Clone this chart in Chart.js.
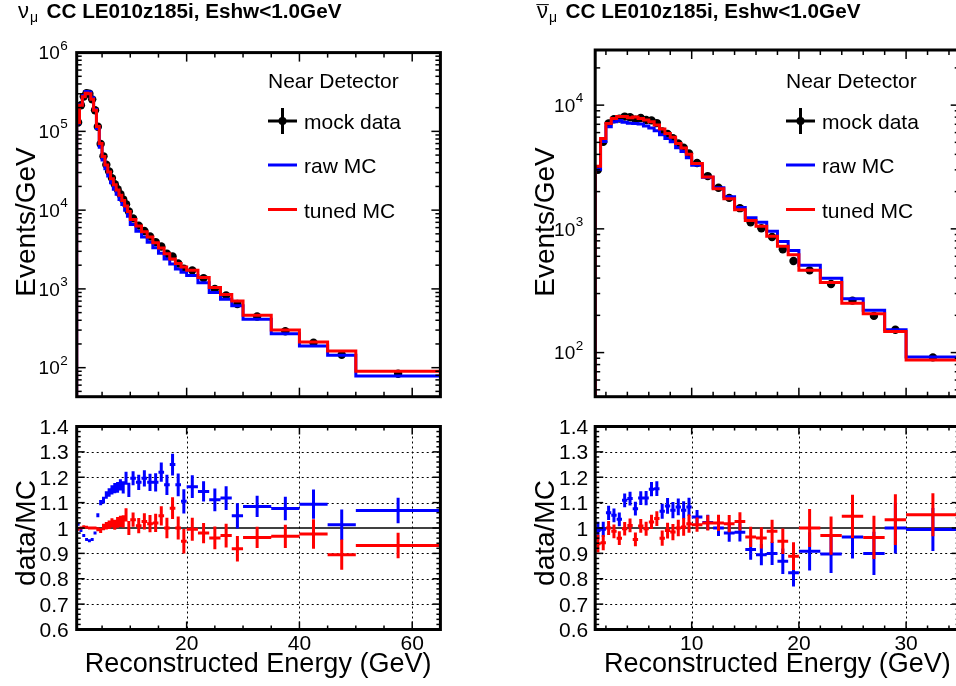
<!DOCTYPE html>
<html>
<head>
<meta charset="utf-8">
<script src="https://cdn.jsdelivr.net/npm/chart.js@4.4.1/dist/chart.umd.min.js"></script>
<style>
  html, body { margin: 0; padding: 0; background: #fff; overflow: hidden; }
  #page { position: relative; width: 956px; height: 686px; overflow: hidden; background: #fff; }
  #page canvas { position: absolute; left: 0; top: 0; }
</style>
</head>
<body>
<div id="page">
  <canvas id="numuSpec" width="980" height="686"></canvas>
  <canvas id="numuRatio" width="980" height="686"></canvas>
  <canvas id="nubarSpec" width="980" height="686"></canvas>
  <canvas id="nubarRatio" width="980" height="686"></canvas>
</div>
<script>
// ---- numu sample: bin edges in GeV, spectra in events/GeV ----
const numuEdges = [0.5, 1, 1.5, 2, 2.5, 3, 3.5, 4, 4.5, 5, 5.5, 6, 6.5, 7, 7.5, 8, 8.5, 9, 9.5, 10,
  11, 12, 13, 14, 15, 16, 17, 18, 19, 20, 22, 24, 26, 28, 30, 35, 40, 45, 50, 65];
const numuData = [1.294e5, 2.15e5, 2.764e5, 3.06e5, 3.0e5, 2.55e5, 1.85e5, 1.144e5, 6.93e4, 4.82e4,
  3.78e4, 3.09e4, 2.55e4, 2.13e4, 1.84e4, 1.59e4, 1.365e4, 1.19e4, 9600,
  7850, 6360, 5440, 4630, 3930, 3460, 2800, 2590, 2100, 1800,
  1720, 1370, 999, 825, 643, 446, 290, 207, 146, 83.8];
const numuRawMC = [1.275e5, 2.17e5, 2.85e5, 3.2e5, 3.16e5, 2.67e5, 1.89e5, 1.09e5, 6.3e4, 4.34e4,
  3.35e4, 2.71e4, 2.22e4, 1.84e4, 1.59e4, 1.36e4, 1.18e4, 9940, 8350,
  6560, 5390, 4550, 3920, 3330, 2840, 2390, 2070, 1790, 1630,
  1480, 1200, 899, 738, 613, 411, 269, 189, 144, 78.4];
const numuTunedMC = [1.3e5, 2.15e5, 2.75e5, 3.05e5, 3.0e5, 2.55e5, 1.85e5, 1.15e5, 7.0e4, 4.8e4,
  3.75e4, 3.05e4, 2.5e4, 2.1e4, 1.8e4, 1.55e4, 1.33e4, 1.13e4, 9600,
  7600, 6300, 5300, 4550, 3850, 3300, 2800, 2400, 2100, 1900,
  1730, 1400, 1040, 850, 700, 463, 300, 212, 163, 90];
const numuRatioRaw = [1.015, 0.99, 0.97, 0.955, 0.95, 0.955, 0.98, 1.05, 1.10, 1.11,
  1.13, 1.14, 1.15, 1.157, 1.16, 1.17, 1.16, 1.196, 1.15,
  1.196, 1.18, 1.196, 1.18, 1.18, 1.22, 1.17, 1.25, 1.17, 1.105,
  1.163, 1.144, 1.111, 1.118, 1.048, 1.085, 1.077, 1.094, 1.013, 1.069];
const numuRatioTuned = [0.995, 1.0, 1.005, 1.003, 1.0, 1.0, 1.0, 0.995, 0.99, 1.004,
  1.009, 1.013, 1.02, 1.013, 1.022, 1.026, 1.026, 1.052, 1.0,
  1.033, 1.009, 1.026, 1.017, 1.02, 1.048, 1.0, 1.078, 1.0, 0.948,
  0.995, 0.98, 0.961, 0.97, 0.918, 0.963, 0.967, 0.976, 0.895, 0.931];
const numuRatioErr = [0.004, 0.004, 0.004, 0.004, 0.004, 0.005, 0.006, 0.008, 0.01, 0.013,
  0.015, 0.017, 0.018, 0.02, 0.021, 0.022, 0.024, 0.026, 0.028,
  0.028, 0.03, 0.032, 0.034, 0.036, 0.038, 0.04, 0.043, 0.045, 0.048,
  0.045, 0.04, 0.045, 0.047, 0.05, 0.042, 0.046, 0.058, 0.06, 0.05];

// ---- numubar sample ----
const nubarEdges = [1, 1.5, 2, 2.5, 3, 3.5, 4, 4.5, 5, 5.5, 6, 6.5, 7, 7.5, 8, 8.5, 9, 9.5, 10,
  11, 12, 13, 14, 15, 16, 17, 18, 19, 20, 22, 24, 26, 28, 30, 35];
const nubarData = [3000, 5060, 7100, 7700, 7780, 8080, 7980, 7640, 7860, 7580,
  7530, 7160, 6140, 5840, 5410, 4900, 4520, 4070,
  3410, 2670, 2150, 1780, 1470, 1130, 1010, 860, 685, 550,
  462, 358, 263, 198, 153, 91.5];
const nubarRawMC = [3030, 5080, 6700, 7330, 7520, 7280, 7150, 7100, 7030, 6780,
  6530, 6200, 5760, 5370, 5060, 4520, 4220, 3760,
  3270, 2610, 2150, 1820, 1490, 1230, 1130, 955, 789, 668,
  509, 399, 272, 220, 153, 92];
const nubarTunedMC = [3200, 5370, 7100, 7800, 8100, 8100, 7900, 8000, 7800, 7600,
  7350, 6900, 6400, 5900, 5500, 4900, 4500, 4000,
  3370, 2620, 2110, 1750, 1430, 1170, 1050, 871, 723, 619,
  462, 369, 251, 206, 148, 87];
const nubarRatioRaw = [0.99, 0.995, 1.06, 1.05, 1.034, 1.109, 1.116, 1.076, 1.118, 1.118,
  1.153, 1.155, 1.066, 1.087, 1.07, 1.083, 1.07, 1.083,
  1.043, 1.022, 1.0, 0.98, 0.983, 0.915, 0.895, 0.9, 0.869, 0.824,
  0.908, 0.898, 0.965, 0.9, 1.0, 0.994];
const nubarRatioTuned = [0.938, 0.942, 1.0, 0.987, 0.96, 0.997, 1.01, 0.955, 1.008, 0.997,
  1.024, 1.037, 0.96, 0.99, 0.984, 1.0, 1.004, 1.017,
  1.013, 1.02, 1.02, 1.017, 1.026, 0.965, 0.961, 0.987, 0.948, 0.889,
  1.0, 0.97, 1.046, 0.963, 1.033, 1.052];
const nubarRatioErr = [0.035, 0.03, 0.028, 0.027, 0.027, 0.027, 0.027, 0.027, 0.027, 0.028,
  0.028, 0.029, 0.03, 0.031, 0.032, 0.033, 0.035, 0.036,
  0.028, 0.03, 0.032, 0.034, 0.036, 0.04, 0.042, 0.046, 0.05, 0.055,
  0.075, 0.075, 0.085, 0.085, 0.1, 0.085];

// ---- axis ticks and labels ----
const numuXTicks = [20, 40, 60];
const nubarXTicks = [10, 20, 30];
const numuDecades = [2, 3, 4, 5, 6];
const nubarDecades = [2, 3, 4];
const ratioYTicks = [0.6, 0.7, 0.8, 0.9, 1.0, 1.1, 1.2, 1.3, 1.4];
const ratioYLabels = ['0.6', '0.7', '0.8', '0.9', '1', '1.1', '1.2', '1.3', '1.4'];
const legendLabels = ['mock data', 'raw MC', 'tuned MC'];

const SANS = '"Liberation Sans", Arial, Helvetica, sans-serif';
const RED = '#ff0000', BLUE = '#0000ff';

// histogram outline: starts below the axis at the first edge, one step per bin
function histPath(edges, vals) {
  const pts = [{ x: edges[0], y: 1e-3 }];
  vals.forEach((v, i) => pts.push({ x: edges[i + 1], y: v }));
  return pts;
}
function binCentres(edges, vals) {
  return vals.map((v, i) => ({ x: (edges[i] + edges[i + 1]) / 2, y: v }));
}
// horizontal bar over the bin plus a vertical error bar, null breaks the line
function crosses(edges, vals, errs) {
  const pts = [];
  vals.forEach((v, i) => {
    const lo = edges[i], hi = edges[i + 1], c = (lo + hi) / 2;
    pts.push({ x: lo, y: v }, { x: hi, y: v }, { x: c, y: null },
      { x: c, y: v - errs[i] }, { x: c, y: v + errs[i] }, { x: c, y: null });
  });
  return pts;
}

function line(ctx, x1, y1, x2, y2) {
  ctx.beginPath(); ctx.moveTo(x1, y1); ctx.lineTo(x2, y2); ctx.stroke();
}

function drawTitle(ctx, t) {
  ctx.fillStyle = '#000';
  ctx.textAlign = 'left';
  ctx.textBaseline = 'alphabetic';
  ctx.font = `22px ${SANS}`;
  ctx.fillText('\u03BD', t.x, t.y);
  const nuW = ctx.measureText('\u03BD').width;
  if (t.bar) {
    ctx.textAlign = 'center';
    ctx.fillText('\u00AF', t.x + nuW / 2, t.y + 3);
    ctx.textAlign = 'left';
  }
  ctx.font = `14px ${SANS}`;
  ctx.fillText('\u03BC', t.x + nuW + 1, t.y + 4);
  ctx.font = `bold 20.7px ${SANS}`;
  ctx.fillText(t.text, t.x + 28.5, t.y);
}

function drawLegend(ctx, lg) {
  const x = lg.x, w = 29;
  ctx.fillStyle = '#000';
  ctx.textAlign = 'left';
  ctx.textBaseline = 'alphabetic';
  ctx.font = `21px ${SANS}`;
  ctx.fillText('Near Detector', x, 88);
  ctx.lineWidth = 3;
  ctx.strokeStyle = '#000';
  line(ctx, x, 121, x + w, 121);
  line(ctx, x + w / 2, 108, x + w / 2, 134);
  ctx.beginPath(); ctx.arc(x + w / 2, 121, 4, 0, Math.PI * 2); ctx.fill();
  ctx.strokeStyle = BLUE; line(ctx, x, 165, x + w, 165);
  ctx.strokeStyle = RED; line(ctx, x, 209.5, x + w, 209.5);
  ctx.fillText(legendLabels[0], lg.textX, 128.5);
  ctx.fillText(legendLabels[1], lg.textX, 173);
  ctx.fillText(legendLabels[2], lg.textX, 217.5);
}

// ROOT-like frame: ticks inside on all four sides, labels, titles
function rootAxes(cfg) {
  return {
    id: 'rootAxes',
    beforeDatasetsDraw(chart) {
      if (!cfg.grid) return;
      const { ctx, chartArea: a, scales: { x, y } } = chart;
      ctx.save();
      ctx.strokeStyle = '#000';
      ctx.lineWidth = 1;
      ctx.setLineDash([2, 3]);
      ratioYTicks.forEach(v => {
        if (v <= 0.65 || v >= 1.35 || Math.abs(v - 1) < 1e-6) return;
        const py = Math.round(y.getPixelForValue(v)) + 0.5;
        line(ctx, a.left, py, a.right, py);
      });
      cfg.xMajor.forEach(v => {
        const px = Math.round(x.getPixelForValue(v)) + 0.5;
        line(ctx, px, a.top, px, a.bottom);
      });
      ctx.restore();
    },
    afterDraw(chart) {
      const { ctx, chartArea: a, scales: { x, y } } = chart;
      ctx.save();
      ctx.strokeStyle = '#000';
      ctx.fillStyle = '#000';
      ctx.lineWidth = 1.5;
      const maj = cfg.majorLen, mnr = cfg.minorLen;

      // x ticks
      const n0 = Math.ceil(x.min / cfg.xMinorStep), n1 = Math.floor(x.max / cfg.xMinorStep);
      for (let i = n0; i <= n1; i++) {
        const v = i * cfg.xMinorStep;
        if (v <= x.min || v >= x.max) continue;
        const len = cfg.xMajor.includes(v) ? maj : mnr;
        const px = x.getPixelForValue(v);
        line(ctx, px, a.bottom, px, a.bottom - len);
        line(ctx, px, a.top, px, a.top + len);
      }

      // y ticks
      if (cfg.log) {
        const e0 = Math.floor(Math.log10(y.min)), e1 = Math.ceil(Math.log10(y.max));
        for (let e = e0; e <= e1; e++) {
          for (let m = 1; m <= 9; m++) {
            const v = m * Math.pow(10, e);
            if (v <= y.min || v >= y.max) continue;
            const len = m === 1 ? maj : mnr;
            const py = y.getPixelForValue(v);
            line(ctx, a.left, py, a.left + len, py);
            line(ctx, a.right, py, a.right - len, py);
          }
        }
      } else {
        for (let i = 31; i < 70; i++) {
          const v = i * 0.02;
          const len = i % 5 === 0 ? maj : mnr;
          const py = y.getPixelForValue(v);
          line(ctx, a.left, py, a.left + len, py);
          line(ctx, a.right, py, a.right - len, py);
        }
      }

      // frame
      ctx.lineWidth = 3;
      ctx.strokeRect(a.left, a.top, a.right - a.left, a.bottom - a.top);

      // tick labels
      ctx.textBaseline = 'alphabetic';
      if (cfg.log) {
        cfg.decades.forEach(e => {
          const py = y.getPixelForValue(Math.pow(10, e));
          ctx.font = `13.5px ${SANS}`;
          const sw = ctx.measureText(String(e)).width;
          const xr = a.left - cfg.labelGap;
          ctx.textAlign = 'left';
          ctx.fillText(String(e), xr - sw, py - 3);
          ctx.font = `19px ${SANS}`;
          ctx.textAlign = 'right';
          ctx.fillText('10', xr - sw - 0.5, py + 6.8);
        });
      } else {
        ctx.font = `21px ${SANS}`;
        ctx.textAlign = 'right';
        ratioYTicks.forEach((v, i) => {
          const py = y.getPixelForValue(v);
          ctx.fillText(ratioYLabels[i], a.left - cfg.labelGap, py + 7.5);
        });
        ctx.textAlign = 'center';
        ctx.textBaseline = 'top';
        cfg.xMajor.forEach(v => {
          ctx.fillText(String(v), x.getPixelForValue(v), a.bottom + 4);
        });
        ctx.textAlign = 'right';
        ctx.textBaseline = 'alphabetic';
        ctx.font = `27px ${SANS}`;
        ctx.fillText('Reconstructed Energy (GeV)', a.right - 9, 672);
      }

      // y title
      ctx.save();
      ctx.font = `28px ${SANS}`;
      ctx.textAlign = 'center';
      ctx.textBaseline = 'middle';
      ctx.translate(cfg.yTitle.x, cfg.yTitle.y);
      ctx.rotate(-Math.PI / 2);
      ctx.fillText(cfg.yTitle.text, 0, 0);
      ctx.restore();

      if (cfg.title) drawTitle(ctx, cfg.title);
      if (cfg.legend) drawLegend(ctx, cfg.legend);
      ctx.restore();
    }
  };
}

function makePanel(id, frame, xRange, yScale, datasets, cfg) {
  return new Chart(document.getElementById(id), {
    type: 'line',
    data: { datasets },
    options: {
      responsive: false,
      animation: false,
      events: [],
      layout: { padding: { left: frame.left, top: frame.top, right: 980 - frame.right, bottom: 686 - frame.bottom } },
      plugins: { legend: { display: false }, tooltip: { enabled: false } },
      elements: { point: { radius: 0 }, line: { tension: 0 } },
      scales: {
        x: { type: 'linear', min: xRange[0], max: xRange[1], display: false },
        y: Object.assign({ display: false }, yScale)
      }
    },
    plugins: [rootAxes(cfg)]
  });
}

function spectrumSets(edges, data, raw, tuned) {
  return [
    { data: histPath(edges, tuned), borderColor: RED, borderWidth: 3, stepped: 'after', fill: false, order: 0 },
    { data: histPath(edges, raw), borderColor: BLUE, borderWidth: 3, stepped: 'after', fill: false, order: 1 },
    { data: binCentres(edges, data), showLine: false, pointRadius: 4.2, pointBackgroundColor: '#000',
      pointBorderWidth: 0, order: 2 }
  ];
}
function ratioSets(edges, rRaw, rTuned, err, xRange) {
  return [
    { data: crosses(edges, rTuned, err), borderColor: RED, borderWidth: 3, spanGaps: false, order: 0 },
    { data: crosses(edges, rRaw, err), borderColor: BLUE, borderWidth: 3, spanGaps: false, order: 1 },
    { data: [{ x: xRange[0], y: 1 }, { x: xRange[1], y: 1 }], borderColor: '#000', borderWidth: 1.5, order: 2 }
  ];
}

const numuX = [0.5, 65];
const nubarX = [1, 35];

makePanel('numuSpec', { left: 76.7, right: 440.4, top: 52.6, bottom: 396.7 }, numuX,
  { type: 'logarithmic', min: 42.8, max: 1e6 },
  spectrumSets(numuEdges, numuData, numuRawMC, numuTunedMC),
  { log: true, decades: numuDecades, xMajor: numuXTicks, xMinorStep: 5, majorLen: 9, minorLen: 5, labelGap: 9,
    yTitle: { text: 'Events/GeV', x: 27, y: 222 },
    title: { bar: false, text: 'CC LE010z185i, Eshw<1.0GeV', x: 18, y: 17.5 },
    legend: { x: 268, textX: 304 } });

makePanel('numuRatio', { left: 76.7, right: 440.4, top: 426.5, bottom: 629.5 }, numuX,
  { type: 'linear', min: 0.6, max: 1.4 },
  ratioSets(numuEdges, numuRatioRaw, numuRatioTuned, numuRatioErr, numuX),
  { log: false, grid: true, xMajor: numuXTicks, xMinorStep: 5, majorLen: 8, minorLen: 4, labelGap: 8,
    yTitle: { text: 'data/MC', x: 27, y: 533 } });

makePanel('nubarSpec', { left: 595.2, right: 959.7, top: 50, bottom: 396.7 }, nubarX,
  { type: 'logarithmic', min: 44, max: 27900 },
  spectrumSets(nubarEdges, nubarData, nubarRawMC, nubarTunedMC),
  { log: true, decades: nubarDecades, xMajor: nubarXTicks, xMinorStep: 2, majorLen: 9, minorLen: 5, labelGap: 12,
    yTitle: { text: 'Events/GeV', x: 546, y: 222 },
    title: { bar: true, text: 'CC LE010z185i, Eshw<1.0GeV', x: 537, y: 17.5 },
    legend: { x: 786, textX: 822 } });

makePanel('nubarRatio', { left: 595.2, right: 959.7, top: 426.5, bottom: 629.5 }, nubarX,
  { type: 'linear', min: 0.6, max: 1.4 },
  ratioSets(nubarEdges, nubarRatioRaw, nubarRatioTuned, nubarRatioErr, nubarX),
  { log: false, grid: true, xMajor: nubarXTicks, xMinorStep: 2, majorLen: 8, minorLen: 4, labelGap: 7,
    yTitle: { text: 'data/MC', x: 546, y: 533 } });
</script>
</body>
</html>
